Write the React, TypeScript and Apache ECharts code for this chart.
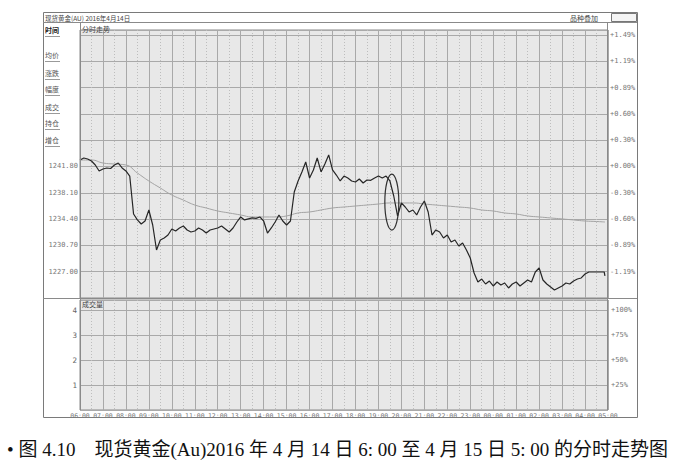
import React, { useEffect, useRef } from "react";
import * as echarts from "echarts";

// ---- data ----
const timeLabels = [
  "06:00", "07:00", "08:00", "09:00", "10:00", "11:00", "12:00", "13:00",
  "14:00", "15:00", "16:00", "17:00", "18:00", "19:00", "20:00", "21:00",
  "22:00", "23:00", "00:00", "01:00", "02:00", "03:00", "04:00", "05:00",
];
const priceStepMinutes = 10;
const prices = [
  1242.71, 1242.99, 1242.85, 1242.57, 1242.01, 1241.17, 1241.45, 1241.59, 1241.52, 1242.01,
  1242.29, 1241.59, 1241.17, 1240.46, 1235.12, 1234.28, 1233.71, 1234.13, 1235.68, 1233.57,
  1230.05, 1231.46, 1231.74, 1232.16, 1233.01, 1232.73, 1233.15, 1233.43, 1232.87, 1232.59,
  1232.73, 1233.15, 1232.87, 1232.44, 1232.87, 1233.01, 1233.15, 1233.43, 1233.01, 1232.59,
  1233.15, 1233.99, 1234.70, 1234.28, 1234.42, 1234.56, 1234.50, 1234.70, 1234.13, 1232.44,
  1233.15, 1233.99, 1234.98, 1234.13, 1233.57, 1234.13, 1238.21, 1239.76, 1241.03, 1242.43,
  1240.18, 1241.31, 1242.99, 1241.03, 1242.15, 1243.42, 1241.31, 1240.60, 1239.76, 1240.46,
  1240.18, 1239.76, 1239.62, 1240.04, 1239.48, 1239.90, 1239.85, 1240.18, 1240.46, 1240.18,
  1240.46, 1239.76, 1237.65, 1234.84, 1236.67, 1236.10, 1235.40, 1235.68, 1234.98, 1236.10,
  1236.95, 1235.40, 1232.16, 1232.87, 1232.59, 1231.74, 1232.16, 1231.18, 1231.46, 1230.62,
  1231.04, 1230.05, 1228.93, 1226.82, 1225.55, 1225.97, 1225.27, 1225.69, 1224.99, 1225.55,
  1225.13, 1225.41, 1224.71, 1225.27, 1225.55, 1224.99, 1225.41, 1225.83, 1225.55, 1226.96,
  1227.52, 1225.83, 1225.27, 1224.85, 1224.43, 1224.71, 1224.99, 1225.41, 1225.27, 1225.69,
  1225.97, 1226.12, 1226.68, 1226.96, 1226.96, 1226.96, 1226.96, 1226.96,
];
const lastTickMinute = 1372;
const lastTickPrice = 1226.4;
const avgStepMinutes = 30;
const avgPrices = [
  1242.71, 1242.71, 1242.29, 1242.15, 1242.01, 1240.88, 1239.76, 1238.77, 1237.79, 1237.08,
  1236.38, 1235.96, 1235.54, 1235.26, 1234.98, 1234.70, 1234.70, 1234.70, 1234.84, 1235.26,
  1235.40, 1235.68, 1235.96, 1236.10, 1236.24, 1236.38, 1236.52, 1236.67, 1236.67, 1236.67,
  1236.52, 1236.38, 1236.24, 1236.10, 1235.96, 1235.68, 1235.54, 1235.26, 1235.12, 1234.84,
  1234.70, 1234.56, 1234.42, 1234.28, 1234.13, 1234.06,
];
const avgLast = 1233.99;
const priceTickLabels = ["1227.00", "1230.70", "1234.40", "1238.10", "1241.80"];
const pctTickLabels = [
  "-1.19%", "-0.89%", "-0.60%", "-0.30%", "+0.00%", "+0.30%", "+0.60%", "+0.89%", "+1.19%", "+1.49%",
];
const volTickLabels = ["1", "2", "3", "4"];
const volPctLabels = ["+25%", "+50%", "+75%", "+100%"];
const sideMenu = ["时间", "均价", "涨跌", "幅度", "成交", "持仓", "增仓"];
const caption =
  "• 图 4.10    现货黄金(Au)2016 年 4 月 14 日 6: 00 至 4 月 15 日 5: 00 的分时走势图";
const markTime = 815;
const markPrice = 1236.8;

const PMIN = 1223.3;
const PMAX = 1261.0;
const PSTEP = 3.7;
const MONO = "'DejaVu Sans Mono', monospace";
const CJK = "'Noto Sans CJK SC', sans-serif";

export default function App() {
  const ref = useRef<HTMLDivElement>(null);
  useEffect(() => {
    if (!ref.current) return;
    const chart = echarts.init(ref.current, undefined, { renderer: "svg" });
    const priceData: any[] = prices.map((p, i) => [i * priceStepMinutes, p]);
    priceData.push([lastTickMinute, lastTickPrice]);
    const avgData: any[] = avgPrices.map((p, i) => [i * avgStepMinutes, p]);
    avgData.push([lastTickMinute, avgLast]);

    const gridLine = { lineStyle: { color: "#a9a9a9", width: 1 } };
    const baseX = (gi: number, labels: boolean) => ({
      type: "value",
      gridIndex: gi,
      min: 0,
      max: 1380,
      interval: 60,
      axisLine: { show: false },
      axisTick: { show: false },
      splitLine: { show: true, ...gridLine },
      minorTick: { show: false, splitNumber: 2 },
      minorSplitLine: { show: true, lineStyle: { color: "#bdbdbd", type: [1, 2], width: 1 } },
      axisLabel: labels
        ? {
            show: true,
            margin: 2,
            fontSize: 6.5,
            fontFamily: MONO,
            color: "#777777",
            formatter: (v: number) => timeLabels[Math.round(v / 60)] ?? "",
          }
        : { show: false },
    });

    const option: any = {
      animation: false,
      backgroundColor: "#ffffff",
      grid: [
        { left: 80, right: 83, top: 30, bottom: 174, show: true, backgroundColor: "#e8e8e8", borderColor: "#8a8a8a", borderWidth: 1 },
        { left: 80, right: 83, top: 300, bottom: 62, show: true, backgroundColor: "#e8e8e8", borderColor: "#8a8a8a", borderWidth: 1 },
      ],
      xAxis: [baseX(0, false), baseX(1, true)],
      yAxis: [
        {
          type: "value", gridIndex: 0, position: "left", min: PMIN, max: PMAX, interval: PSTEP,
          axisLine: { show: false }, axisTick: { show: false },
          splitLine: { show: true, ...gridLine },
          axisLabel: {
            margin: 2, fontSize: 7, fontFamily: MONO, color: "#777",
            formatter: (v: number) => {
              const s = v.toFixed(2);
              return priceTickLabels.includes(s) ? s : "";
            },
          },
        },
        {
          type: "value", gridIndex: 0, position: "right", min: PMIN, max: PMAX, interval: PSTEP,
          axisLine: { show: false }, axisTick: { show: false }, splitLine: { show: false },
          axisLabel: {
            margin: 2, fontSize: 7, fontFamily: MONO, color: "#777",
            formatter: (v: number) => {
              const k = Math.round((v - 1227.0) / PSTEP);
              if (Math.abs(v - (1227.0 + k * PSTEP)) > 0.05) return "";
              return pctTickLabels[k] ?? "";
            },
          },
        },
        {
          type: "value", gridIndex: 1, position: "left", min: 0, max: 4.4, interval: 1,
          axisLine: { show: false }, axisTick: { show: false },
          splitLine: { show: true, ...gridLine },
          axisLabel: {
            margin: 3, fontSize: 7.5, fontFamily: MONO, color: "#666",
            formatter: (v: number) => (Number.isInteger(v) && v > 0 ? volTickLabels[v - 1] ?? "" : ""),
          },
        },
        {
          type: "value", gridIndex: 1, position: "right", min: 0, max: 4.4, interval: 1,
          axisLine: { show: false }, axisTick: { show: false }, splitLine: { show: false },
          axisLabel: {
            margin: 3, fontSize: 7, fontFamily: MONO, color: "#777",
            formatter: (v: number) => (Number.isInteger(v) && v > 0 ? volPctLabels[v - 1] ?? "" : ""),
          },
        },
      ],
      series: [
        {
          type: "line", xAxisIndex: 0, yAxisIndex: 0, data: avgData, smooth: true,
          showSymbol: false, lineStyle: { color: "#a3a3a3", width: 1 }, z: 3,
        },
        {
          type: "line", xAxisIndex: 0, yAxisIndex: 0, data: priceData,
          showSymbol: false, lineStyle: { color: "#262626", width: 1.2 }, z: 4,
        },
        { type: "line", xAxisIndex: 1, yAxisIndex: 2, data: [], showSymbol: false },
      ],
    };
    chart.setOption(option);

    const c = chart.convertToPixel({ xAxisIndex: 0, yAxisIndex: 0 } as any, [markTime, markPrice]) as number[];
    const txt = (x: number, y: number, text: string, size: number, opts: any = {}) => ({
      type: "text",
      x, y,
      silent: true,
      style: {
        text, fill: opts.fill ?? "#555", font: `${opts.bold ? "bold " : ""}${size}px ${opts.family ?? CJK}`,
        textAlign: opts.align ?? "left", textVerticalAlign: "middle",
      },
      z: 10,
    });
    const line = (x1: number, y1: number, x2: number, y2: number, color = "#8a8a8a") => ({
      type: "line", silent: true, shape: { x1, y1, x2, y2 }, style: { stroke: color, lineWidth: 1 }, z: 9,
    });
    const graphic: any[] = [
      { type: "rect", silent: true, shape: { x: 43.5, y: 12.5, width: 594, height: 405 }, style: { fill: "none", stroke: "#7a7a7a", lineWidth: 1 }, z: 9 },
      line(43, 22.5, 637, 22.5),
      line(80.5, 22, 80.5, 410),
      line(607.5, 22, 607.5, 410),
      line(43, 298.5, 637, 298.5),
      txt(45, 17.5, "现货黄金(AU) 2016年4月14日", 6.5, { fill: "#444" }),
      txt(570, 17.5, "品种叠加", 7, { fill: "#444" }),
      { type: "rect", silent: true, shape: { x: 611.5, y: 13.5, width: 25, height: 8 }, style: { fill: "#f4f4f4", stroke: "#777", lineWidth: 1 }, z: 10 },
      line(619.5, 14, 619.5, 21, "#777"),
      line(627.5, 14, 627.5, 21, "#777"),
      txt(82, 28.5, "分时走势", 7, { fill: "#444" }),
      txt(82, 304, "成交量", 7, { fill: "#444" }),
      {
        type: "ellipse", silent: true, shape: { cx: c[0], cy: c[1], rx: 7, ry: 28 },
        style: { fill: "none", stroke: "#303030", lineWidth: 1.2 }, z: 12,
      },
      txt(7, 449, caption, 19, { fill: "#111", family: "'Liberation Serif', 'Noto Sans CJK SC', serif" }),
    ];
    const menuY = [30, 55, 73, 89, 107, 123, 140];
    sideMenu.forEach((m, i) => {
      graphic.push(txt(45, menuY[i], m, 7, { fill: i === 0 ? "#222" : "#555", bold: i === 0 }));
      graphic.push(line(45, menuY[i] + 6.5, 60, menuY[i] + 6.5, "#9a9a9a"));
    });
    chart.setOption({ graphic });

    return () => chart.dispose();
  }, []);
  return (
    <div
      ref={ref}
      style={{ position: "absolute", left: 0, top: 0, width: 691, height: 472 }}
    />
  );
}
